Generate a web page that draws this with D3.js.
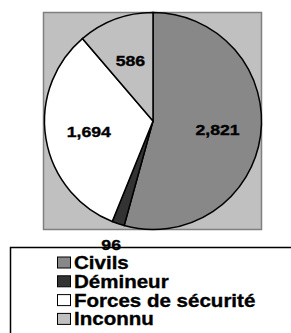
<!DOCTYPE html>
<html>
<head>
<meta charset="utf-8">
<script src="https://d3js.org/d3.v7.min.js"></script>
<style>
    body { margin: 0; background: #fff; }
    text { font-family: "Liberation Sans", Arial, sans-serif; font-weight: bold; fill: #000; stroke: #000; stroke-width: 0.35px; }
</style>
</head>
<body>
<div id="chart"></div>
<script>
// data
var categories = ["Civils", "Démineur", "Forces de sécurité", "Inconnu"];
var values = [2821, 96, 1694, 586];
var colors = ["#888888", "#333333", "#ffffff", "#c0c0c0"];

var width = 291, height = 333;
var stretch = 1.14; // text in the original is a bit wider than tall

var svg = d3.select("#chart").append("svg")
    .attr("width", width)
    .attr("height", height);

// plot area
svg.append("rect")
    .attr("x", 43.5).attr("y", 12.5)
    .attr("width", 218).attr("height", 217)
    .attr("fill", "#c0c0c0")
    .attr("stroke", "#808080")
    .attr("stroke-width", 1.5);

var cx = 153, cy = 121, r = 108.5;

var pie = d3.pie().sort(null).value(function (d) { return d; });
var arcs = pie(values);

var arc = d3.arc().innerRadius(0).outerRadius(r);
var labelArc = d3.arc().innerRadius(r * 0.6).outerRadius(r * 0.6);
var outerArc = d3.arc().innerRadius(r * 1.2).outerRadius(r * 1.2);

var g = svg.append("g").attr("transform", "translate(" + cx + "," + cy + ")");

g.selectAll("path.slice")
    .data(arcs)
    .enter().append("path")
    .attr("class", "slice")
    .attr("d", arc)
    .attr("fill", function (d, i) { return colors[i]; })
    .attr("stroke", "#000")
    .attr("stroke-width", 1.5);

// legend box
var legend = svg.append("g");
legend.append("rect")
    .attr("x", 10.5).attr("y", 247.5)
    .attr("width", 300).attr("height", 100)
    .attr("fill", "#fff")
    .attr("stroke", "#000")
    .attr("stroke-width", 1.5);

var rows = legend.selectAll("g.row")
    .data(categories)
    .enter().append("g")
    .attr("class", "row")
    .attr("transform", function (d, i) { return "translate(57," + (262.5 + i * 18.8) + ")"; });

rows.append("rect")
    .attr("x", 0.5).attr("y", -5.5)
    .attr("width", 13).attr("height", 11)
    .attr("fill", function (d, i) { return colors[i]; })
    .attr("stroke", "#000")
    .attr("stroke-width", 1);

rows.append("text")
    .attr("transform", "translate(17,6.5) scale(" + stretch + ",1)")
    .style("font-size", "18px")
    .text(function (d) { return d; });

// slice labels
var fmt = d3.format(",");
var labels = svg.append("g").attr("transform", "translate(" + cx + "," + cy + ")");
labels.selectAll("g.lab")
    .data(arcs)
    .enter().append("g")
    .attr("class", "lab")
    .attr("transform", function (d) {
        var small = (d.endAngle - d.startAngle) < 0.2;
        var c = small ? outerArc.centroid(d) : labelArc.centroid(d);
        return "translate(" + c[0] + "," + c[1] + ")";
    })
    .append("text")
    .attr("text-anchor", "middle")
    .attr("dy", "0.36em")
    .attr("transform", "scale(" + stretch + ",1)")
    .style("font-size", "15.5px")
    .text(function (d) { return fmt(d.value); });
</script>
</body>
</html>
